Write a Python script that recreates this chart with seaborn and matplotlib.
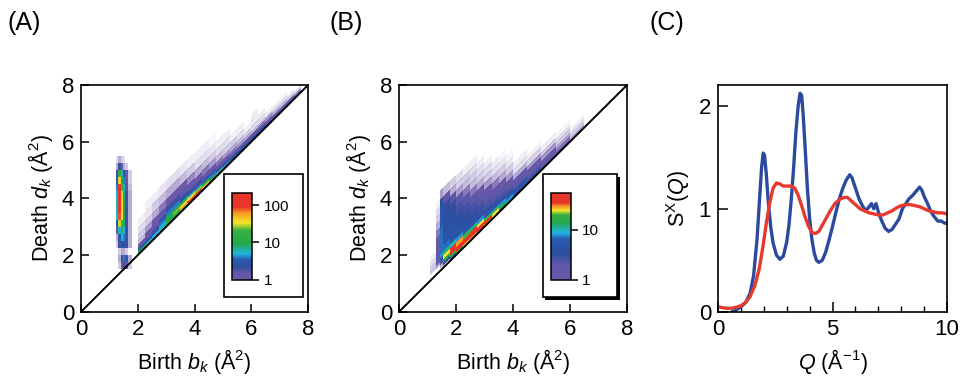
import numpy as np
import matplotlib
matplotlib.use("Agg")
import matplotlib.pyplot as plt
from matplotlib.colors import LinearSegmentedColormap, LogNorm
from matplotlib.cm import ScalarMappable
from matplotlib.patches import Rectangle
import seaborn as sns

# ---- (A) persistence diagram: vertical strip, cells in (birth, death)
a_strip_birth = [1.25, 1.32, 1.4, 1.48, 1.56, 1.65, 1.8]
a_strip_death = [1.5, 1.75, 2.0, 2.25, 2.5, 2.75, 3.0, 3.25, 3.5, 3.75,
                 4.0, 4.25, 4.5, 4.75, 5.0, 5.25, 5.5]
a_strip_counts = [
    [0, 0.3, 1.5, 2, 1, 0.3],
    [0, 0.5, 2, 4, 2, 0.5],
    [0, 0.3, 0.5, 0.5, 0.3, 0],
    [0.3, 2, 3, 3, 2, 0.5],
    [0.5, 3, 5, 4, 2, 0.5],
    [1, 6, 8, 5, 2, 0.5],
    [3, 30, 20, 8, 2, 0.5],
    [5, 80, 35, 10, 2, 0.5],
    [6, 150, 40, 10, 2, 0.5],
    [6, 180, 40, 10, 2, 0.5],
    [5, 150, 30, 8, 2, 0.5],
    [4, 100, 20, 6, 1.5, 0.4],
    [3, 40, 12, 4, 1, 0.3],
    [2, 15, 6, 3, 1, 0.3],
    [0.5, 2, 1, 0.5, 0.3, 0],
    [0.2, 0.5, 0.3, 0.2, 0, 0],
]

# ---- (A) diagonal band, cells in (birth, persistence = death - birth)
a_band_birth = [2.0, 2.25, 2.5, 2.75, 3.0, 3.25, 3.5, 3.75, 4.0, 4.25, 4.5, 4.75,
                5.0, 5.25, 5.5, 5.75, 6.0, 6.25, 6.5, 6.75, 7.0, 7.25, 7.5, 7.75]
a_band_pers = [0, 0.08, 0.16, 0.25, 0.35, 0.5, 0.7, 0.95, 1.25, 1.6]
a_band_counts = [
    [6, 5, 5, 6, 8, 12, 25, 60, 90, 40, 12, 8, 6, 5, 4, 4, 3, 3, 3, 2, 2, 2, 1],
    [10, 6, 5, 6, 10, 20, 50, 120, 150, 50, 10, 6, 4, 3, 3, 2, 2, 2, 1.5, 1.5, 1, 1, 0.6],
    [3, 3, 3, 5, 10, 25, 40, 40, 25, 10, 4, 2, 2, 1.5, 1, 1, 1, 0.8, 0.6, 0.5, 0.4, 0.3, 0.2],
    [1, 1.5, 2, 4, 10, 15, 10, 6, 4, 3, 2, 1.2, 1, 0.8, 0.6, 0.5, 0.4, 0.3, 0.3, 0.2, 0.2, 0.1, 0],
    [0.4, 1, 1.5, 3, 4, 4, 3, 2, 2, 1.5, 1.2, 0.8, 0.6, 0.5, 0.4, 0.3, 0.2, 0.2, 0.1, 0.1, 0.1, 0, 0],
    [0.3, 0.6, 1, 1.5, 2, 2, 1.5, 1.2, 1, 0.8, 0.6, 0.4, 0.3, 0.3, 0.2, 0.1, 0.1, 0.1, 0, 0, 0, 0, 0],
    [0.2, 0.3, 0.5, 0.8, 1, 1, 1, 0.7, 0.5, 0.4, 0.3, 0.2, 0.2, 0.1, 0.1, 0, 0.1, 0, 0, 0, 0, 0, 0],
    [0.1, 0.15, 0.3, 0.4, 0.5, 0.5, 0.4, 0.3, 0.2, 0.2, 0.15, 0.1, 0.1, 0, 0, 0, 0, 0, 0, 0, 0, 0, 0],
    [0, 0.1, 0.1, 0.15, 0.2, 0.2, 0.15, 0.1, 0.1, 0.1, 0.05, 0, 0, 0, 0, 0, 0, 0, 0, 0, 0, 0, 0],
]
a_cbar_ticks = [1, 10, 100]
a_cmax = 210

# ---- (B) persistence diagram, cells in (birth, persistence)
b_birth = [1.1, 1.3, 1.45, 1.56, 1.8, 2.0, 2.25, 2.5, 2.75, 3.0, 3.25, 3.5, 3.75,
           4.0, 4.5, 5.0, 5.5, 6.0, 6.5]
b_pers = [0, 0.1, 0.2, 0.3, 0.45, 0.6, 0.8, 1.0, 1.25, 1.5, 1.75, 2.0, 2.25, 2.5, 2.8]
b_counts = [
    [0, 0, 0, 0.3, 3, 15, 25, 30, 35, 30, 25, 15, 10, 6, 3, 2, 1.2, 0.5],
    [0, 0, 0.5, 3, 15, 35, 50, 50, 45, 40, 25, 15, 8, 5, 2.5, 1.5, 0.8, 0.3],
    [0.3, 0.5, 2, 15, 45, 50, 45, 35, 25, 18, 12, 8, 5, 3, 2, 1, 0.5, 0.2],
    [0.3, 1, 5, 25, 40, 30, 20, 12, 8, 6, 5, 4, 3, 2, 1.2, 0.6, 0.3, 0.1],
    [0.2, 1.5, 8, 12, 10, 8, 6, 5, 4, 3.5, 3, 2.5, 2, 1.5, 0.6, 0.3, 0.2, 0],
    [0.1, 1.5, 7, 7, 6, 5, 4, 3.5, 3, 2.5, 2.2, 2, 1.5, 0.5, 0.25, 0.1, 0.05, 0],
    [0, 1.5, 7, 5, 5, 4, 3.5, 3, 2.5, 2, 1.8, 1.2, 0.6, 0.2, 0.1, 0, 0, 0],
    [0, 1, 7, 4, 4, 3.5, 3, 2.5, 2, 1.5, 0.8, 0.5, 0.3, 0.1, 0, 0, 0, 0],
    [0, 0.8, 7, 4, 4, 3, 2.5, 2, 1.2, 0.6, 0.4, 0.3, 0.15, 0, 0, 0, 0, 0],
    [0, 0.5, 6, 3.5, 3.5, 2.5, 2, 0.8, 0.5, 0.3, 0.2, 0.15, 0.05, 0, 0, 0, 0, 0],
    [0, 0.3, 6, 3.5, 3, 2, 0.8, 0.4, 0.3, 0.2, 0.1, 0.05, 0, 0, 0, 0, 0, 0],
    [0, 0.2, 5, 3, 2, 0.6, 0.4, 0.3, 0.2, 0.1, 0, 0, 0, 0, 0, 0, 0, 0],
    [0, 0.1, 4, 1.5, 0.5, 0.3, 0.3, 0.2, 0.1, 0, 0, 0, 0, 0, 0, 0, 0, 0],
    [0, 0, 0.6, 0.4, 0.3, 0.2, 0.1, 0.1, 0, 0, 0, 0, 0, 0, 0, 0, 0, 0],
]
b_cbar_ticks = [1, 10]
b_cmax = 55

# ---- (C) structure factors
q_blue = [0.6, 0.8, 1.0, 1.2, 1.4, 1.55, 1.7, 1.8, 1.9, 1.97, 2.03, 2.1, 2.2, 2.3, 2.4,
          2.55, 2.7, 2.85, 3.0, 3.1, 3.2, 3.3, 3.4, 3.5, 3.58, 3.65, 3.72, 3.8, 3.9,
          4.0, 4.1, 4.2, 4.3, 4.4, 4.55, 4.7, 4.85, 5.0, 5.15, 5.3, 5.45, 5.6, 5.75,
          5.85, 6.0, 6.15, 6.3, 6.45, 6.6, 6.7, 6.8, 6.9, 7.0, 7.15, 7.3, 7.45, 7.6,
          7.75, 7.9, 8.05, 8.2, 8.35, 8.5, 8.65, 8.8, 8.9, 9.0, 9.15, 9.3, 9.45, 9.6,
          9.75, 9.9, 10.0]
s_blue = [0.0, 0.02, 0.05, 0.09, 0.18, 0.35, 0.7, 1.05, 1.4, 1.54, 1.52, 1.35, 1.05, 0.82, 0.67,
          0.55, 0.51, 0.54, 0.68, 0.85, 1.1, 1.4, 1.75, 2.0, 2.12, 2.1, 1.9, 1.6, 1.2,
          0.9, 0.7, 0.57, 0.5, 0.48, 0.5, 0.58, 0.7, 0.83, 0.97, 1.1, 1.2, 1.28, 1.33,
          1.3, 1.2, 1.1, 1.03, 0.98, 1.02, 1.05, 1.0, 1.05, 0.97, 0.88, 0.81, 0.78, 0.8,
          0.85, 0.9, 1.0, 1.05, 1.1, 1.13, 1.17, 1.21, 1.18, 1.12, 1.05, 0.97, 0.92, 0.88,
          0.88, 0.86, 0.86]
q_red = [0.0, 0.2, 0.4, 0.6, 0.8, 1.0, 1.2, 1.4, 1.6, 1.8, 1.95, 2.1, 2.25, 2.4, 2.55,
         2.7, 2.85, 3.0, 3.2, 3.35, 3.5, 3.65, 3.8, 3.95, 4.1, 4.25, 4.4, 4.55, 4.7,
         4.9, 5.1, 5.3, 5.5, 5.65, 5.8, 6.0, 6.2, 6.4, 6.6, 6.8, 7.0, 7.2, 7.4, 7.6,
         7.8, 8.0, 8.2, 8.4, 8.6, 8.8, 9.0, 9.2, 9.4, 9.6, 9.8, 10.0]
s_red = [0.05, 0.04, 0.035, 0.035, 0.045, 0.06, 0.09, 0.15, 0.25, 0.42, 0.62, 0.85, 1.05, 1.2, 1.25,
         1.24, 1.22, 1.22, 1.22, 1.2, 1.13, 1.03, 0.92, 0.83, 0.77, 0.76, 0.78, 0.84, 0.9,
         0.98, 1.05, 1.09, 1.11, 1.11, 1.08, 1.04, 1.0, 0.98, 0.96, 0.95, 0.94, 0.94, 0.96, 0.98,
         1.01, 1.03, 1.04, 1.04, 1.03, 1.02, 1.0, 0.98, 0.97, 0.96, 0.96, 0.95]

# ---- style
sns.set_style("ticks")
plt.rcParams['font.family'] = ['Liberation Sans', 'DejaVu Sans']
plt.rcParams['mathtext.fontset'] = 'custom'
plt.rcParams['mathtext.rm'] = 'Liberation Sans'
plt.rcParams['mathtext.it'] = 'Liberation Sans:italic'
plt.rcParams['mathtext.bf'] = 'Liberation Sans:bold'
for key in ['text.color', 'axes.labelcolor', 'xtick.color', 'ytick.color', 'axes.edgecolor']:
    plt.rcParams[key] = 'black'
plt.rcParams['axes.linewidth'] = 1.2

purple, blue, cyan, green = '#6c58a6', '#2c4ea0', '#1fb2e2', '#22a94a'
yellow, orange, red = '#f2e62a', '#f49a22', '#e8352a'
cmap_a = LinearSegmentedColormap.from_list('rainbow_a', [
    (0, purple), (0.08, '#5f57a8'), (0.16, blue), (0.23, '#2a5ab2'), (0.3, cyan),
    (0.35, '#22b0a0'), (0.42, green), (0.57, '#3cb043'), (0.66, yellow),
    (0.77, orange), (0.84, red), (1, red)])
cmap_b = LinearSegmentedColormap.from_list('rainbow_b', [
    (0, purple), (0.18, '#5c57a8'), (0.3, blue), (0.47, '#2a5ab2'), (0.54, cyan),
    (0.6, '#22b0a0'), (0.66, green), (0.75, '#3cb043'), (0.8, yellow),
    (0.85, orange), (0.89, red), (1, red)])

LINE_BLUE, LINE_RED = '#2b4a9e', '#e8392e'


def draw_cells(ax, birth, offsets, counts, cmap, norm, persistence):
    b = np.array(birth, dtype=float)
    o = np.array(offsets, dtype=float)
    c = np.array(counts, dtype=float)
    X = np.tile(b, (len(o), 1))
    Y = o[:, None] + (X if persistence else 0.0)
    col = np.ma.masked_where(c <= 0, np.maximum(c, 1))
    alpha = np.clip(c, 0, 1)
    ax.pcolormesh(X, Y, col, cmap=cmap, norm=norm, alpha=alpha,
                  shading='flat', edgecolors='none', zorder=1)


def diagram_frame(ax, cmap, norm, ticks, shadow):
    ax.plot([0, 8], [0, 8], color='black', lw=1.4, zorder=3)
    ax.set_xlim(0, 8)
    ax.set_ylim(0, 8)
    ax.set_xticks([0, 2, 4, 6, 8])
    ax.set_yticks([0, 2, 4, 6, 8])
    ax.tick_params(direction='in', length=6, width=1.1, labelsize=16, pad=5)
    ax.set_xlabel('Birth $b_k$ (Å$^2$)', fontsize=15.5, labelpad=5)
    ax.set_ylabel('Death $d_k$ (Å$^2$)', fontsize=15.5, labelpad=5)
    for s in ax.spines.values():
        s.set_visible(True)
    box = (0.63, 0.064, 0.326 if shadow else 0.348, 0.544)
    if shadow:
        ax.add_patch(Rectangle((box[0] + 0.012, box[1] - 0.012), box[2], box[3],
                               transform=ax.transAxes, facecolor='black',
                               edgecolor='none', zorder=4))
    ax.add_patch(Rectangle(box[:2], box[2], box[3], transform=ax.transAxes,
                           facecolor='white', edgecolor='black', lw=1.2, zorder=4.2))
    cax = ax.inset_axes([0.667, 0.141, 0.088, 0.383], zorder=5)
    cb = ax.figure.colorbar(ScalarMappable(norm=norm, cmap=cmap), cax=cax)
    cb.set_ticks(ticks, labels=[str(t) for t in ticks])
    cb.ax.minorticks_off()
    cb.ax.tick_params(length=5, width=1.1, labelsize=11, pad=3, direction='out')
    cb.outline.set_linewidth(1.1)


fig = plt.figure(figsize=(9.6, 3.78), dpi=100)
bottom, height = 0.175, 0.6
ax_a = fig.add_axes([0.0844, bottom, 0.2365, height])
ax_b = fig.add_axes([0.4156, bottom, 0.2375, height])
ax_c = fig.add_axes([0.748, bottom, 0.2385, height])

norm_a = LogNorm(vmin=1, vmax=a_cmax)
draw_cells(ax_a, a_strip_birth, a_strip_death, a_strip_counts, cmap_a, norm_a, False)
draw_cells(ax_a, a_band_birth, a_band_pers, a_band_counts, cmap_a, norm_a, True)
diagram_frame(ax_a, cmap_a, norm_a, a_cbar_ticks, shadow=False)

norm_b = LogNorm(vmin=1, vmax=b_cmax)
draw_cells(ax_b, b_birth, b_pers, b_counts, cmap_b, norm_b, True)
diagram_frame(ax_b, cmap_b, norm_b, b_cbar_ticks, shadow=True)

# (C) S^X(Q)
sns.lineplot(x=q_blue, y=s_blue, ax=ax_c, color=LINE_BLUE, lw=2.4, sort=False)
sns.lineplot(x=q_red, y=s_red, ax=ax_c, color=LINE_RED, lw=2.4, sort=False)
ax_c.set_xlim(0, 10)
ax_c.set_ylim(0, 2.2)
ax_c.set_xticks([0, 5, 10])
ax_c.set_xticks(range(0, 11), minor=True)
ax_c.set_yticks([0, 1, 2])
ax_c.tick_params(which='major', direction='in', length=7, width=1.1, labelsize=16, pad=5)
ax_c.tick_params(which='minor', direction='in', length=4, width=1.0)
ax_c.tick_params(axis='y', which='minor', left=False)
for s in ax_c.spines.values():
    s.set_visible(True)
ax_c.set_xlabel('$Q$ (Å$^{-1}$)', fontsize=15.5, labelpad=5)
ax_c.set_ylabel('S$^{\\mathrm{X}}$($Q$)', fontsize=15.5, labelpad=5)

for x, lab in [(0.008, '(A)'), (0.343, '(B)'), (0.677, '(C)')]:
    fig.text(x, 0.972, lab, fontsize=18, va='top', ha='left')

fig.savefig('out.png', dpi=100)
